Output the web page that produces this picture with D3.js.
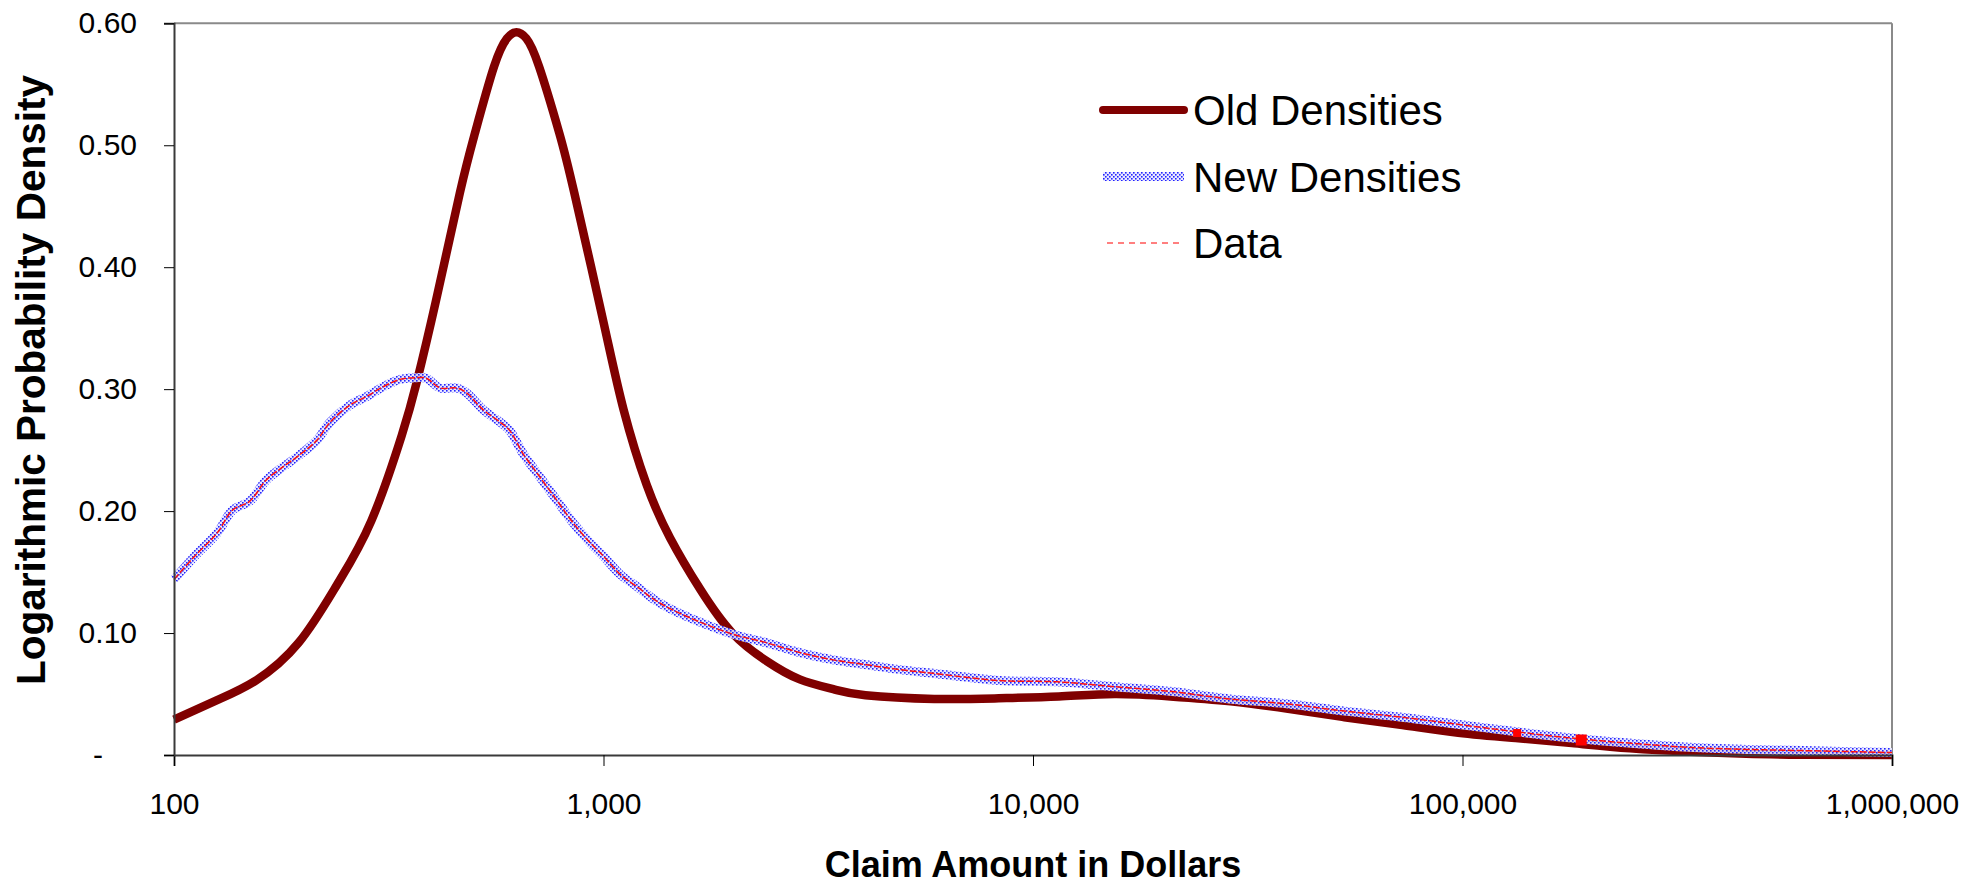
<!DOCTYPE html>
<html>
<head>
<meta charset="utf-8">
<script src="https://cdn.jsdelivr.net/npm/d3@7"></script>
<style>
  html, body { margin: 0; padding: 0; background: #fff; }
  svg { display: block; }
  text { font-family: "Liberation Sans", Arial, sans-serif; fill: #000; }
</style>
</head>
<body>
<svg id="chart" width="1983" height="886"></svg>
<script>
// Claim amounts (dollars) and logarithmic densities of the old fitted model
const oldAmounts = [100, 126, 155, 195, 240, 288, 339, 367, 407, 463, 502, 556, 596, 627, 661, 708, 789, 855,
  1000, 1114, 1259, 1429, 1679, 1995, 2399, 2864, 3428, 4074, 5888, 8318, 11482, 15488, 20893,
  28840, 38905, 53088, 72444, 97724, 134896, 181970, 245471, 338844, 457088, 616595, 1000000];
const oldDensities = [0.029, 0.045, 0.061, 0.092, 0.140, 0.192, 0.262, 0.305, 0.372, 0.461, 0.510, 0.5645, 0.5876, 0.5926, 0.5876, 0.5645, 0.510, 0.461,
  0.355, 0.283, 0.222, 0.178, 0.136, 0.100, 0.077, 0.062, 0.054, 0.049, 0.046, 0.0465, 0.048, 0.050, 0.048,
  0.044, 0.038, 0.031, 0.0246, 0.0183, 0.0137, 0.0096, 0.0055, 0.0027, 0.001, 0.0003, 0.0];

// Claim amounts and densities of the new model (the empirical data trace follows it)
const newAmounts = [100, 111, 126, 137, 150, 164, 179, 196, 215, 231, 257, 281, 307, 336, 367, 387,
  416, 455, 480, 525, 574, 605, 650, 711, 778, 851, 931, 1000, 1094, 1197, 1306, 1429, 1679, 2004,
  2399, 2864, 3428, 4093, 4898, 5848, 8356, 11376, 15488, 21086, 28641, 38905, 53088, 72111, 98175,
  133660, 181970, 247172, 336512, 457088, 622300, 1000000];
const newDensities = [0.144, 0.162, 0.182, 0.201, 0.208, 0.2255, 0.236, 0.246, 0.258, 0.273, 0.287, 0.294,
  0.302, 0.308, 0.3094, 0.309, 0.301, 0.301, 0.297, 0.283, 0.273, 0.266, 0.247, 0.228, 0.209, 0.190,
  0.174, 0.163, 0.148, 0.138, 0.128, 0.120, 0.109, 0.099, 0.092, 0.084, 0.078, 0.074, 0.070, 0.067,
  0.061, 0.060, 0.056, 0.052, 0.046, 0.042, 0.036, 0.031, 0.025, 0.019, 0.0137, 0.0096, 0.0063,
  0.0046, 0.0036, 0.002];

// Individual data points shown with markers
const markerAmounts = [134000, 189000];
const markerDensities = [0.018, 0.0123];

const xTickValues = [100, 1000, 10000, 100000, 1000000];
const yTickValues = [0, 0.1, 0.2, 0.3, 0.4, 0.5, 0.6];
const seriesNames = ["Old Densities", "New Densities", "Data"];

const svg = d3.select("#chart");
const plot = { left: 174, right: 1892, top: 23.3, bottom: 755 };

const x = d3.scaleLog().domain([100, 1000000]).range([plot.left, plot.right]);
const y = d3.scaleLinear().domain([0, 0.6]).range([plot.bottom, plot.top]);

// dotted blue fill used for the "New Densities" band
const defs = svg.append("defs");
const pat = defs.append("pattern")
  .attr("id", "dots").attr("patternUnits", "userSpaceOnUse")
  .attr("width", 4).attr("height", 4);
pat.append("rect").attr("width", 4).attr("height", 4).attr("fill", "rgba(230,230,255,0.9)");
pat.append("rect").attr("x", 0).attr("y", 0).attr("width", 1.6).attr("height", 1.6).attr("fill", "#2323ff");
pat.append("rect").attr("x", 2).attr("y", 2).attr("width", 1.6).attr("height", 1.6).attr("fill", "#2323ff");

// plot frame: gray top/right border
svg.append("line").attr("x1", plot.left).attr("x2", plot.right).attr("y1", plot.top).attr("y2", plot.top)
  .attr("stroke", "#8a8a8a").attr("stroke-width", 2);
svg.append("line").attr("x1", plot.right).attr("x2", plot.right).attr("y1", plot.top).attr("y2", plot.bottom)
  .attr("stroke", "#8a8a8a").attr("stroke-width", 2);

const oldPts = oldAmounts.map((a, i) => [a, oldDensities[i]]);
const newPts = newAmounts.map((a, i) => [a, newDensities[i]]);

// smooth spline for the fitted old model, centripetal Catmull-Rom for the noisier new trace
const oldLine = d3.line().x(d => x(d[0])).y(d => y(d[1])).curve(d3.curveNatural);
const newLine = d3.line().x(d => x(d[0])).y(d => y(d[1])).curve(d3.curveCatmullRom.alpha(0.5));

svg.append("path").datum(oldPts).attr("d", oldLine)
  .attr("fill", "none").attr("stroke", "#800000").attr("stroke-width", 8.5)
  .attr("stroke-linejoin", "round");

svg.append("path").datum(newPts).attr("d", newLine)
  .attr("fill", "none").attr("stroke", "url(#dots)").attr("stroke-width", 9)
  .attr("stroke-linejoin", "round");

svg.append("path").datum(newPts).attr("d", newLine)
  .attr("fill", "none").attr("stroke", "#ff1010").attr("stroke-width", 1.5)
  .attr("stroke-dasharray", "7,2");

const markerSize = [8, 11];
svg.append("g").selectAll("rect").data(markerAmounts).join("rect")
  .attr("x", (d, i) => x(d) - markerSize[i] / 2)
  .attr("y", (d, i) => y(markerDensities[i]) - markerSize[i] / 2)
  .attr("width", (d, i) => markerSize[i]).attr("height", (d, i) => markerSize[i])
  .attr("fill", "#ff0000");

// axes
const fmtX = d3.format(",");
const xAxis = svg.append("g").attr("transform", `translate(0,${plot.bottom})`)
  .call(d3.axisBottom(x).tickValues(xTickValues).tickFormat(d => fmtX(d)).tickSize(11).tickPadding(27));
const yAxis = svg.append("g").attr("transform", `translate(${plot.left},0)`)
  .call(d3.axisLeft(y).tickValues(yTickValues).tickFormat(d => d === 0 ? "-" : d.toFixed(2)).tickSize(10).tickPadding(27));

[xAxis, yAxis].forEach(g => {
  g.select(".domain").attr("stroke", "#3a3a3a").attr("stroke-width", 2);
  g.selectAll(".tick line").attr("stroke", "#000").attr("stroke-width", 1);
  g.selectAll(".tick text").attr("font-size", 30).attr("fill", "#000")
    .style("font-family", '"Liberation Sans", Arial, sans-serif');
});
// the zero label sits further left, as in an accounting number format
yAxis.selectAll(".tick text").filter(d => d === 0).attr("x", -71);

// axis titles
svg.append("text").attr("x", (plot.left + plot.right) / 2).attr("y", 877)
  .attr("text-anchor", "middle").attr("font-size", 36).attr("font-weight", "bold")
  .text("Claim Amount in Dollars");
svg.append("text").attr("transform", `translate(45,380) rotate(-90)`)
  .attr("text-anchor", "middle").attr("font-size", 40.5).attr("font-weight", "bold")
  .text("Logarithmic Probability Density");

// legend
const legend = svg.append("g").attr("transform", "translate(1103,110)");
const rowGap = 66.5;
legend.append("line").attr("x1", 0).attr("x2", 81).attr("y1", 0).attr("y2", 0)
  .attr("stroke", "#800000").attr("stroke-width", 8).attr("stroke-linecap", "round");
legend.append("line").attr("x1", 0).attr("x2", 81).attr("y1", rowGap).attr("y2", rowGap)
  .attr("stroke", "url(#dots)").attr("stroke-width", 9);
legend.append("line").attr("x1", 4).attr("x2", 78).attr("y1", rowGap * 2).attr("y2", rowGap * 2)
  .attr("stroke", "#ff5555").attr("stroke-width", 1.5).attr("stroke-dasharray", "6,5");
legend.selectAll("text.lbl").data(seriesNames).join("text").attr("class", "lbl")
  .attr("x", 90).attr("y", (d, i) => i * rowGap + 15)
  .attr("font-size", 42).text(d => d);
</script>
</body>
</html>
